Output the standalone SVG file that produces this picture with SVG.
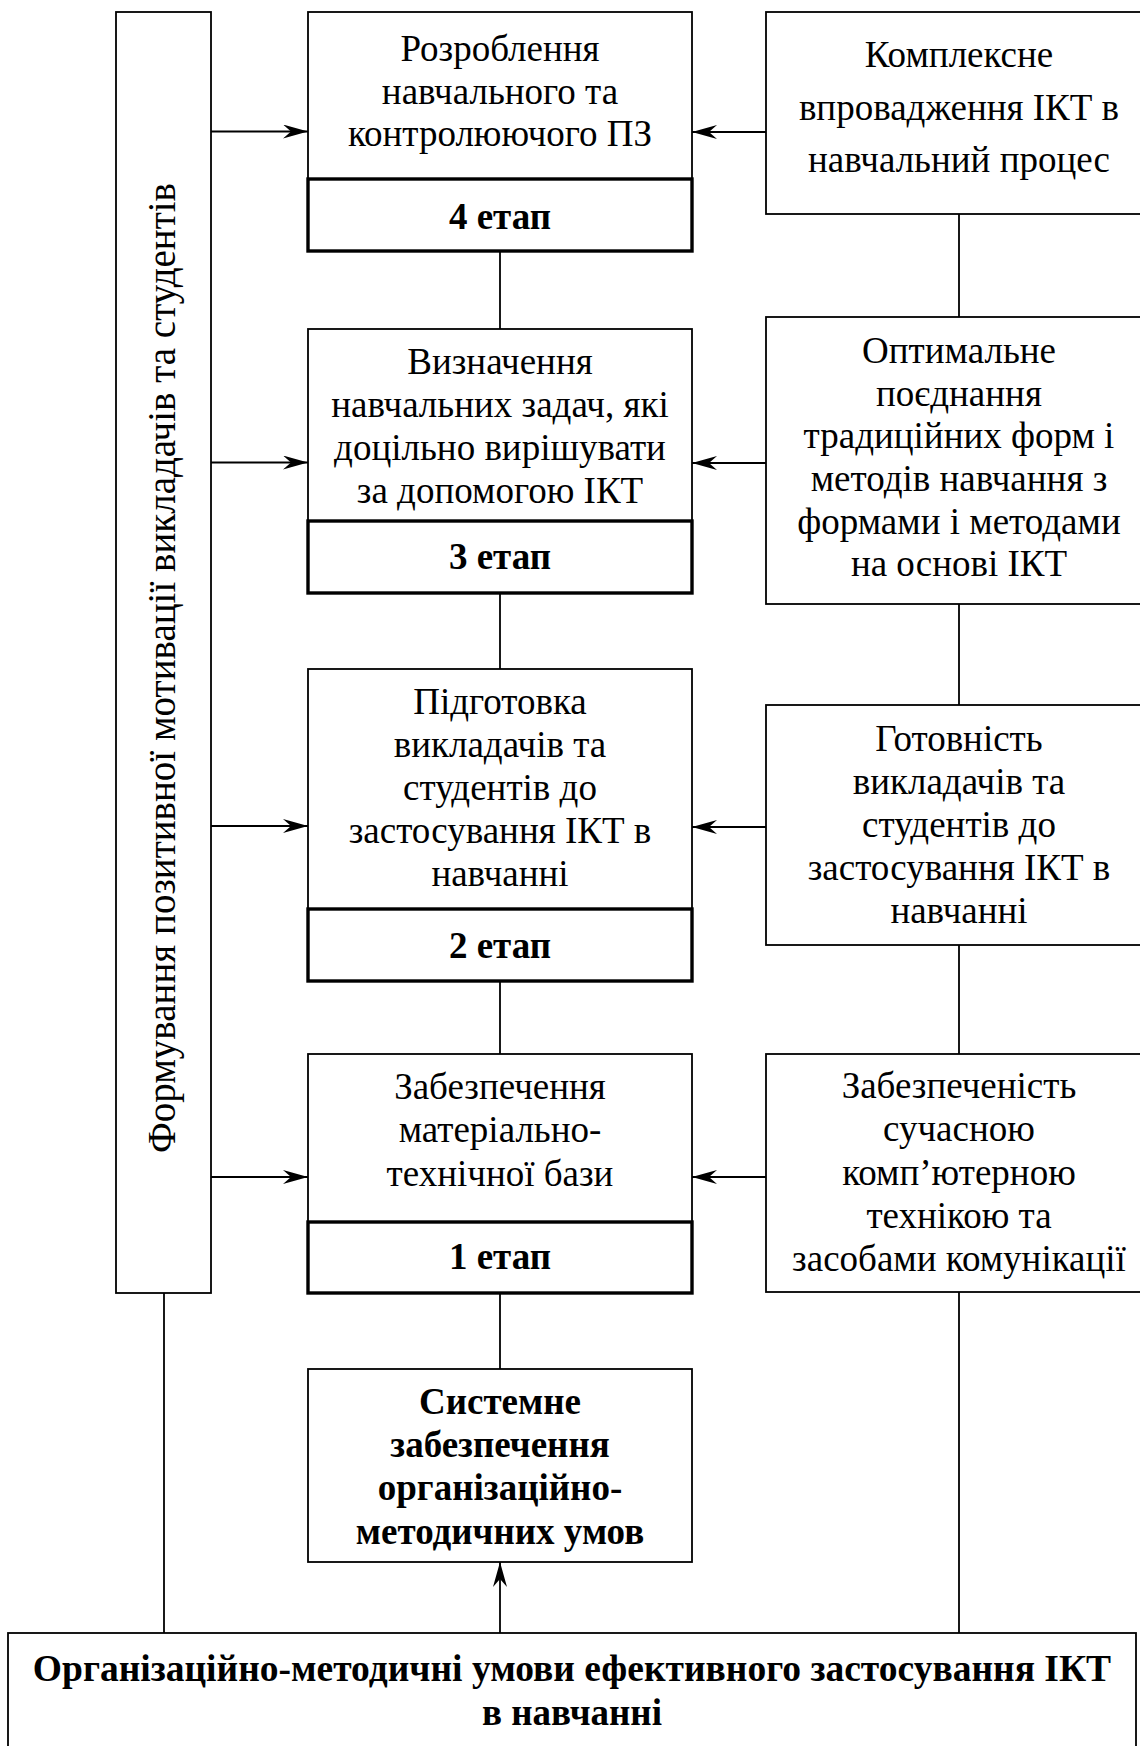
<svg xmlns="http://www.w3.org/2000/svg" width="1140" height="1746" viewBox="0 0 1140 1746">
<style>
.box{fill:#fff;stroke:#000;stroke-width:1.8}
.stage{fill:#fff;stroke:#000;stroke-width:3.4}
.ln{stroke:#000;stroke-width:1.8;fill:none}
.t{font-family:"Liberation Serif","Times New Roman",serif;font-size:37px;text-anchor:middle;fill:#000}
.b{font-weight:bold}
</style>
<defs>
<marker id="ah" markerUnits="userSpaceOnUse" viewBox="0 0 25 14" refX="25" refY="7" markerWidth="25" markerHeight="14" orient="auto">
<path d="M0,0 L25,7 L0,14 L8,7 Z" fill="#000"/>
</marker>
</defs>
<rect width="1140" height="1746" fill="#fff"/>

<g id="connectors">
<line class="ln" x1="211" y1="131.5" x2="308" y2="131.5" marker-end="url(#ah)"/>
<line class="ln" x1="211" y1="462.5" x2="308" y2="462.5" marker-end="url(#ah)"/>
<line class="ln" x1="211" y1="826" x2="308" y2="826" marker-end="url(#ah)"/>
<line class="ln" x1="211" y1="1177" x2="308" y2="1177" marker-end="url(#ah)"/>
<line class="ln" x1="766" y1="132" x2="692" y2="132" marker-end="url(#ah)"/>
<line class="ln" x1="766" y1="463" x2="692" y2="463" marker-end="url(#ah)"/>
<line class="ln" x1="766" y1="827" x2="692" y2="827" marker-end="url(#ah)"/>
<line class="ln" x1="766" y1="1177" x2="692" y2="1177" marker-end="url(#ah)"/>
<line class="ln" x1="500" y1="251" x2="500" y2="329"/>
<line class="ln" x1="500" y1="593" x2="500" y2="669"/>
<line class="ln" x1="500" y1="981" x2="500" y2="1054"/>
<line class="ln" x1="500" y1="1293" x2="500" y2="1369"/>
<line class="ln" x1="500" y1="1633" x2="500" y2="1562" marker-end="url(#ah)"/>
<line class="ln" x1="959" y1="214" x2="959" y2="317"/>
<line class="ln" x1="959" y1="604" x2="959" y2="705"/>
<line class="ln" x1="959" y1="945" x2="959" y2="1054"/>
<line class="ln" x1="959" y1="1292" x2="959" y2="1633"/>
<line class="ln" x1="164" y1="1293" x2="164" y2="1633"/>
</g>

<g id="motivation">
<rect class="box" x="116" y="12" width="95" height="1281"/>
<text class="t" style="font-size:39px" transform="translate(175 668) rotate(-90)" x="0" y="0">Формування позитивної мотивації викладачів та студентів</text>
</g>

<g id="stage4">
<rect class="box" x="308" y="12" width="384" height="167"/>
<rect class="stage" x="308" y="179" width="384" height="72"/>
<text class="t"><tspan x="500" y="61">Розроблення</tspan><tspan x="500" y="104">навчального та</tspan><tspan x="500" y="146">контролюючого ПЗ</tspan></text>
<text class="t b" x="500" y="229">4 етап</text>
</g>

<g id="stage3">
<rect class="box" x="308" y="329" width="384" height="192"/>
<rect class="stage" x="308" y="521" width="384" height="72"/>
<text class="t"><tspan x="500" y="374">Визначення</tspan><tspan x="500" y="417">навчальних задач, які</tspan><tspan x="500" y="460">доцільно вирішувати</tspan><tspan x="500" y="503">за допомогою ІКТ</tspan></text>
<text class="t b" x="500" y="569">3 етап</text>
</g>

<g id="stage2">
<rect class="box" x="308" y="669" width="384" height="240"/>
<rect class="stage" x="308" y="909" width="384" height="72"/>
<text class="t"><tspan x="500" y="714">Підготовка</tspan><tspan x="500" y="757">викладачів та</tspan><tspan x="500" y="800">студентів до</tspan><tspan x="500" y="843">застосування ІКТ в</tspan><tspan x="500" y="886">навчанні</tspan></text>
<text class="t b" x="500" y="958">2 етап</text>
</g>

<g id="stage1">
<rect class="box" x="308" y="1054" width="384" height="168"/>
<rect class="stage" x="308" y="1222" width="384" height="71"/>
<text class="t"><tspan x="500" y="1099">Забезпечення</tspan><tspan x="500" y="1142">матеріально-</tspan><tspan x="500" y="1186">технічної бази</tspan></text>
<text class="t b" x="500" y="1269">1 етап</text>
</g>

<g id="r4">
<rect class="box" x="766" y="12" width="390" height="202"/>
<text class="t"><tspan x="959" y="67">Комплексне</tspan><tspan x="959" y="120">впровадження ІКТ в</tspan><tspan x="959" y="172">навчальний процес</tspan></text>
</g>

<g id="r3">
<rect class="box" x="766" y="317" width="390" height="287"/>
<text class="t"><tspan x="959" y="363">Оптимальне</tspan><tspan x="959" y="406">поєднання</tspan><tspan x="959" y="448">традиційних форм і</tspan><tspan x="959" y="491">методів навчання з</tspan><tspan x="959" y="534">формами і методами</tspan><tspan x="959" y="576">на основі ІКТ</tspan></text>
</g>

<g id="r2">
<rect class="box" x="766" y="705" width="390" height="240"/>
<text class="t"><tspan x="959" y="751">Готовність</tspan><tspan x="959" y="794">викладачів та</tspan><tspan x="959" y="837">студентів до</tspan><tspan x="959" y="880">застосування ІКТ в</tspan><tspan x="959" y="923">навчанні</tspan></text>
</g>

<g id="r1">
<rect class="box" x="766" y="1054" width="390" height="238"/>
<text class="t"><tspan x="959" y="1098">Забезпеченість</tspan><tspan x="959" y="1141">сучасною</tspan><tspan x="959" y="1185">комп’ютерною</tspan><tspan x="959" y="1228">технікою та</tspan><tspan x="959" y="1271">засобами комунікації</tspan></text>
</g>

<g id="system">
<rect class="box" x="308" y="1369" width="384" height="193"/>
<text class="t b"><tspan x="500" y="1414">Системне</tspan><tspan x="500" y="1457">забезпечення</tspan><tspan x="500" y="1500">організаційно-</tspan><tspan x="500" y="1544">методичних умов</tspan></text>
</g>

<g id="conditions">
<rect class="box" x="8" y="1633" width="1128" height="130"/>
<text class="t b"><tspan x="572" y="1681" style="font-size:37.5px">Організаційно-методичні умови ефективного застосування ІКТ</tspan><tspan x="572" y="1725">в навчанні</tspan></text>
</g>
</svg>
